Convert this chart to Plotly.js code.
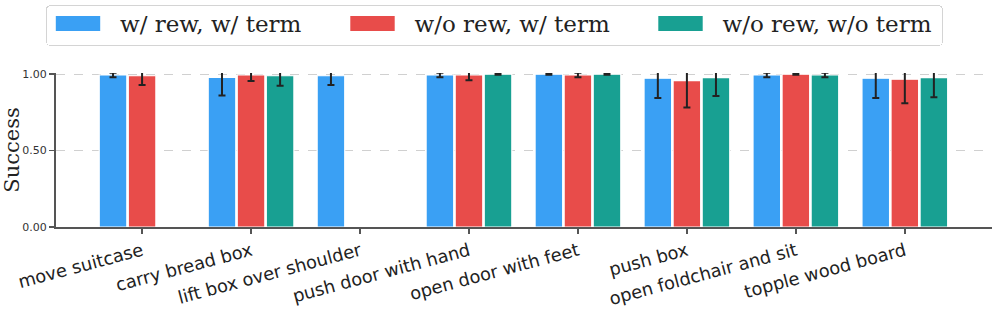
<!DOCTYPE html>
<html>
<head>
<meta charset="utf-8">
<script src="https://cdn.plot.ly/plotly-3.0.1.min.js"></script>
<style>html,body{margin:0;padding:0;background:#fff;}#chart{width:996px;height:310px;}</style>
</head>
<body>
<div id="chart"></div>
<script>
const tasks = ["move suitcase", "carry bread box", "lift box over shoulder", "push door with hand",
  "open door with feet", "push box", "open foldchair and sit", "topple wood board"];
const seriesNames = ["w/ rew, w/ term", "w/o rew, w/ term", "w/o rew, w/o term"];
const rewTerm      = [0.995, 0.980, 0.990, 0.995, 1.000, 0.974, 0.995, 0.974];
const rewTermErr   = [0.015, 0.120, 0.060, 0.015, 0.004, 0.130, 0.015, 0.130];
const noRewTerm    = [0.990, 0.995, null, 0.995, 0.995, 0.958, 1.000, 0.967];
const noRewTermErr = [0.060, 0.040, null, 0.035, 0.015, 0.175, 0.004, 0.157];
const noRewNoTerm    = [null, 0.990, null, 1.000, 1.000, 0.978, 0.995, 0.978];
const noRewNoTermErr = [null, 0.065, null, 0.004, 0.004, 0.120, 0.015, 0.128];
const colors = ["#3aa0f4", "#e84c4a", "#18a092"];

const values = [rewTerm, noRewTerm, noRewNoTerm];
const errs = [rewTermErr, noRewTermErr, noRewNoTermErr];

const traces = values.map((v, i) => ({
  type: "bar",
  name: seriesNames[i],
  x: tasks,
  y: v,
  marker: {color: colors[i], line: {color: "#ffffff", width: 1.2}},
  error_y: {type: "data", array: errs[i], visible: true, color: "#222222", thickness: 2, width: 3.5},
  hoverinfo: "skip"
}));

const layout = {
  width: 996, height: 310,
  margin: {l: 56, r: 4, t: 73, b: 83},
  paper_bgcolor: "#ffffff", plot_bgcolor: "#ffffff",
  barmode: "group", bargap: 0.2, bargroupgap: 0.05,
  showlegend: true,
  legend: {
    orientation: "h", x: -0.0107, xanchor: "left", y: 1.44, yanchor: "top",
    font: {family: "DejaVu Serif", size: 23, color: "#222222"},
    bordercolor: "#d4d4d4", borderwidth: 1, bgcolor: "#ffffff",
    entrywidth: 200, entrywidthmode: "pixels", itemwidth: 52
  },
  xaxis: {
    type: "category", range: [-0.79, 7.8],
    tickangle: -15, ticks: "outside", ticklen: 5, tickwidth: 1.5, tickcolor: "#555555",
    showline: true, linecolor: "#555555", linewidth: 2, showgrid: false,
    tickfont: {family: "DejaVu Sans", size: 17.8, color: "#222222"}
  },
  yaxis: {
    range: [0, 1.008], tickvals: [0, 0.5, 1], tickformat: ".2f",
    ticks: "outside", ticklen: 5, tickwidth: 1.5, tickcolor: "#555555",
    showline: true, linecolor: "#555555", linewidth: 2,
    showgrid: true, gridcolor: "#d0d0d0", gridwidth: 1, griddash: "dash", zeroline: false,
    tickfont: {family: "DejaVu Sans", size: 11, color: "#333333"},
    title: {text: "Success", font: {family: "DejaVu Serif", size: 21, color: "#222222"}, standoff: 5}
  }
};

// legend cosmetics (box size, swatch size, entry placement)
const legendBox = {x: 46, y: 5, w: 896, h: 40};
const legendItemX = [12, 306.5, 614.5];
const legendItemY = 18.5;

function fixLegend() {
  const gd = document.getElementById("chart");
  const leg = gd.querySelector(".legend");
  if (!leg) return;
  leg.setAttribute("transform", `translate(${legendBox.x},${legendBox.y})`);
  const bg = leg.querySelector("rect.bg");
  if (bg) {
    bg.setAttribute("x", 0.5); bg.setAttribute("y", 0.5);
    bg.setAttribute("width", legendBox.w); bg.setAttribute("height", legendBox.h);
    bg.setAttribute("rx", 4); bg.setAttribute("ry", 4);
  }
  const sb = leg.querySelector(".scrollbox");
  if (sb) { sb.removeAttribute("clip-path"); sb.setAttribute("transform", "translate(0,0)"); }
  leg.querySelectorAll(".traces").forEach((t, i) => {
    t.setAttribute("transform", `translate(${legendItemX[i]},${legendItemY})`);
  });
  leg.querySelectorAll("path.legendbar, .legendpoints path").forEach(p => {
    p.setAttribute("transform", "translate(20,0) scale(3.7,1.25)");
    p.style.strokeWidth = "0";
  });
}

Plotly.newPlot("chart", traces, layout, {staticPlot: true}).then(gd => {
  fixLegend();
  gd.on("plotly_afterplot", fixLegend);
});
</script>
</body>
</html>
